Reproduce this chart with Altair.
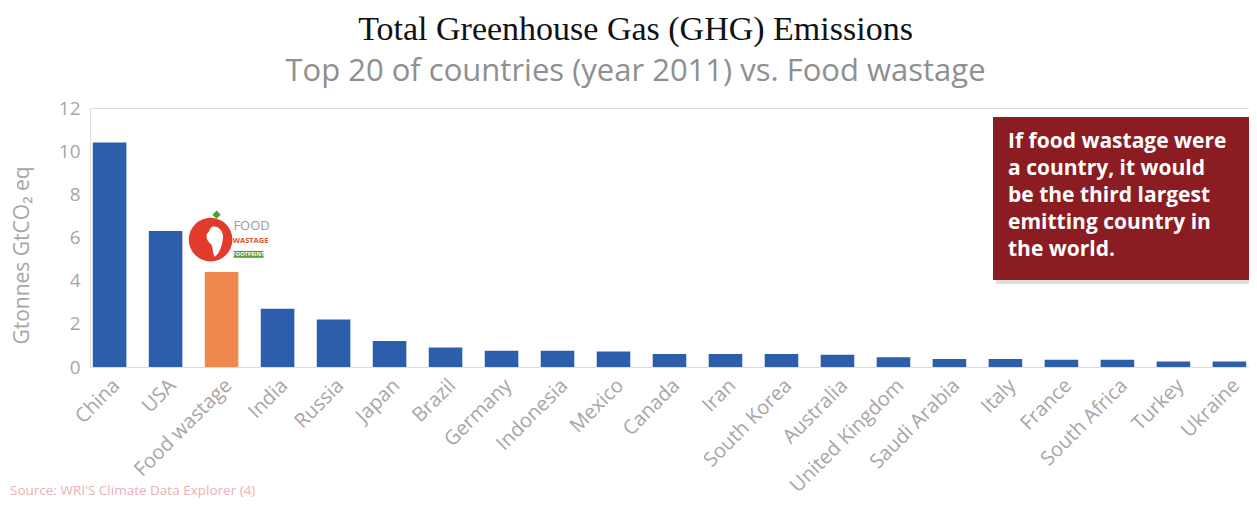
import altair as alt
import pandas as pd

countries = ["China", "USA", "Food wastage", "India", "Russia", "Japan", "Brazil",
             "Germany", "Indonesia", "Mexico", "Canada", "Iran", "South Korea",
             "Australia", "United Kingdom", "Saudi Arabia", "Italy", "France",
             "South Africa", "Turkey", "Ukraine"]
values = [10.4, 6.3, 4.4, 2.7, 2.2, 1.2, 0.9, 0.75, 0.75, 0.72, 0.6, 0.6, 0.6,
          0.57, 0.45, 0.37, 0.37, 0.34, 0.34, 0.25, 0.25]
kinds = ["Food wastage" if c == "Food wastage" else "Country" for c in countries]

note_lines = ["If food wastage were", "a country, it would", "be the third largest",
              "emitting country in", "the world."]
source_text = "Source: WRI'S Climate Data Explorer (4)"
title_text = "Total Greenhouse Gas (GHG) Emissions"
subtitle_text = "Top 20 of countries (year 2011) vs. Food wastage"
y_ticks = [0, 2, 4, 6, 8, 10, 12]

df = pd.DataFrame({"country": countries, "value": values, "kind": kinds})
logo = pd.DataFrame({"country": ["Food wastage"], "value": [5.9], "lo": [5.06], "hi": [5.38]})
one = pd.DataFrame({"t": [0]})

W, H = 1159, 259
GREY = "#a9a5a7"

x_enc = alt.X("country:N", sort=countries,
              scale=alt.Scale(paddingInner=0.4, paddingOuter=0.05),
              axis=alt.Axis(title=None, labelAngle=315, labelFont="Open Sans",
                            labelFontSize=20, labelColor=GREY, ticks=False,
                            domain=False, labelPadding=8))
y_enc = alt.Y("value:Q", scale=alt.Scale(domain=[0, 12]),
              axis=alt.Axis(values=y_ticks, title="Gtonnes GtCO\u2082 eq", grid=False,
                            domain=False, ticks=False, labelPadding=10,
                            labelFont="Open Sans", labelFontSize=19, labelColor=GREY,
                            titleFont="Open Sans", titleFontSize=21, titleColor=GREY,
                            titleFontWeight="normal", titleX=-68, titleY=147,
                            titleAlign="center", titleBaseline="middle"))

bars = alt.Chart(df).mark_bar().encode(
    x=x_enc, y=y_enc,
    color=alt.Color("kind:N", scale=alt.Scale(domain=["Country", "Food wastage"],
                                               range=["#2c5eab", "#f0884e"]), legend=None),
)

xl = alt.X("country:N", sort=countries)
yl = alt.Y("value:Q")
africa = ("M-0.2,-0.95 C0.25,-1.0 0.55,-0.6 0.45,-0.1 C0.4,0.35 0.2,0.8 -0.05,0.95 "
          "C-0.25,0.7 -0.1,0.3 -0.35,0.1 C-0.6,-0.1 -0.65,-0.45 -0.45,-0.6 "
          "C-0.35,-0.75 -0.35,-0.9 -0.2,-0.95 Z")
apple = alt.Chart(logo).mark_point(filled=True, shape="circle", size=1900,
                                   color="#e23b2c", opacity=1, xOffset=-11).encode(x=xl, y=yl)
leaf = alt.Chart(logo).mark_point(filled=True, shape="diamond", size=70,
                                  color="#4f9a3a", opacity=1, xOffset=-5, yOffset=-25).encode(x=xl, y=yl)
hole = alt.Chart(logo).mark_point(filled=True, shape=africa, size=1000,
                                  color="#ffffff", opacity=1, xOffset=-6, yOffset=2).encode(x=xl, y=yl)
food_t = alt.Chart(logo).mark_text(text="FOOD", font="Open Sans", fontSize=13, color="#9a9a9a",
                                   xOffset=30, yOffset=-14).encode(x=xl, y=yl)
wast_t = alt.Chart(logo).mark_text(text="WASTAGE", font="Open Sans", fontSize=7.5, fontWeight="bold",
                                   color="#e8502a", xOffset=29, yOffset=1).encode(x=xl, y=yl)
green = alt.Chart(logo).mark_bar(color="#5c9c3c", width=30, xOffset=27).encode(
    x=xl, y=alt.Y("lo:Q"), y2="hi:Q")
foot_t = alt.Chart(logo).mark_text(text="FOOTPRINT", font="Open Sans", fontSize=5.5, fontWeight="bold",
                                   color="#ffffff", xOffset=27, yOffset=14.5).encode(x=xl, y=yl)

shadow = alt.Chart(one).mark_rect(color="#9a9a9a", opacity=0.35).encode(
    x=alt.value(906), x2=alt.value(1165), y=alt.value(12), y2=alt.value(176))
box = alt.Chart(one).mark_rect(color="#8b1c22").encode(
    x=alt.value(903), x2=alt.value(1162), y=alt.value(9), y2=alt.value(172))
note = alt.Chart(one).mark_text(text=note_lines, align="left", baseline="alphabetic",
                                lineHeight=27, font="Open Sans", fontSize=21,
                                fontWeight="bold", color="#ffffff").encode(
    x=alt.value(918), y=alt.value(40))
source = alt.Chart(one).mark_text(text=source_text, align="left", baseline="alphabetic",
                                  font="Open Sans", fontSize=13.5, color="#ebb0b6").encode(
    x=alt.value(-80), y=alt.value(387))

chart = alt.layer(bars, apple, hole, leaf, food_t, wast_t, green, foot_t,
                  shadow, box, note, source).properties(
    width=W, height=H,
    autosize=alt.AutoSizeParams(type="none"),
    padding={"left": 82, "top": 100, "right": 0, "bottom": 137},
    title=alt.TitleParams(text=title_text, subtitle=subtitle_text,
                          font="Liberation Serif", fontSize=34, fontWeight="normal",
                          color="#111111", subtitleFont="Open Sans", subtitleFontSize=31,
                          subtitleColor="#8f8f8f", anchor="middle", frame="group",
                          dx=-34, offset=12, subtitlePadding=10),
).configure_view(stroke=None).configure(background="#ffffff")

chart.save("out.html", embed_options={"renderer": "svg", "actions": False})
